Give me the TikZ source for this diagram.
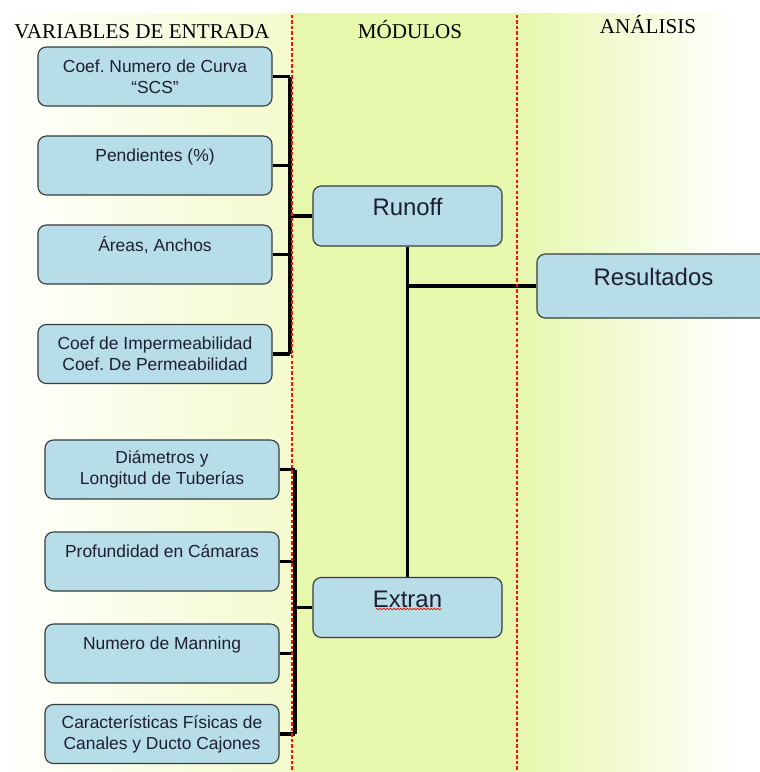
\documentclass[tikz,border=0pt]{standalone}
\usepackage{fontspec}
\setmainfont{Liberation Sans}
\newfontfamily\headfont{Liberation Serif}
\frenchspacing
\usetikzlibrary{decorations.pathmorphing}
\definecolor{colmid}{RGB}{231,247,172}
\definecolor{colleft}{RGB}{244,250,205}
\definecolor{boxfill}{RGB}{183,221,232}
\definecolor{boxline}{RGB}{55,60,60}
\definecolor{txt}{RGB}{30,30,50}
\definecolor{sepred}{RGB}{240,20,20}
\tikzset{
  varbox/.style={draw=boxline, line width=0.8pt, fill=boxfill, rounded corners=6pt,
    minimum width=5.85cm, minimum height=1.475cm, inner sep=0pt, align=center,
    text=txt, font=\fontsize{12.4}{15}\selectfont},
  modbox/.style={varbox, minimum width=4.725cm, minimum height=1.5cm,
    font=\fontsize{17}{20}\selectfont, text height=12.2pt, text depth=12.8pt},
  bus/.style={line width=2.6pt},
  sep/.style={draw=sepred, line width=0.9pt, dash pattern=on 2.4pt off 1.5pt},
  head/.style={font=\headfont\fontsize{15}{18}\selectfont, text=black}
}
\begin{document}
\begin{tikzpicture}[x=0.025cm, y=-0.025cm]
\useasboundingbox (0,0) rectangle (760,772);
\fill[white] (0,0) rectangle (760,772);
\shade[left color=white, right color=colleft] (0,13) rectangle (292,772);
\fill[colmid] (292,13) rectangle (517,772);
\shade[left color=colmid, right color=white] (517,13) rectangle (735,772);

\node[head] (hvar) at (142,32) {VARIABLES DE ENTRADA};
\node[head] (hmod) at (410,30) {MÓDULOS};
\node[head] (hana) at (648,25) {ANÁLISIS};

\node[varbox] (v1) at (155,76.5) {Coef. Numero de Curva\\``SCS''};
\node[varbox] (v2) at (155,165.5) {Pendientes (\%)\\ \mbox{}};
\node[varbox] (v3) at (155,254.5) {Áreas, Anchos\\ \mbox{}};
\node[varbox] (v4) at (155,354) {Coef de Impermeabilidad\\Coef. De Permeabilidad};
\node[varbox] (v5) at (162,469.5) {Diámetros y\\Longitud de Tuberías};
\node[varbox] (v6) at (162,561.5) {Profundidad en Cámaras\\ \mbox{}};
\node[varbox] (v7) at (162,653.5) {Numero de Manning\\ \mbox{}};
\node[varbox] (v8) at (162,734) {Características Físicas de\\Canales y Ducto Cajones};

\node[modbox] (runoff) at (407.5,216) {Runoff};
\node[modbox] (extran) at (407.5,607.5) {Extran};
\node[modbox, minimum width=5.825cm, minimum height=1.6cm] (result) at (653.5,286) {Resultados};
\draw[red, line width=0.5pt, decorate, decoration={snake, amplitude=0.5pt, segment length=2.4pt}]
  (376,609) -- (442,609);

\coordinate (topbus) at (290,0);
\coordinate (botbus) at (295,0);
\foreach \v in {v1,v2,v3,v4}
  \draw[bus] (\v.east) -- (\v.east -| topbus);
\draw[bus] (v1.east -| topbus) -- (v4.east -| topbus);
\draw[bus] (runoff.west -| topbus) -- (runoff.west);
\foreach \v in {v5,v6,v7,v8}
  \draw[bus] (\v.east) -- (\v.east -| botbus);
\draw[bus] (v5.east -| botbus) -- (v8.east -| botbus);
\draw[bus] (extran.west -| botbus) -- (extran.west);
\draw[bus] (runoff.south) -- (extran.north);
\draw[bus] (runoff.south |- result.west) -- (result.west);

\draw[sep] (292,15) -- (292,772);
\draw[sep] (517,15) -- (517,772);
\end{tikzpicture}
\end{document}
